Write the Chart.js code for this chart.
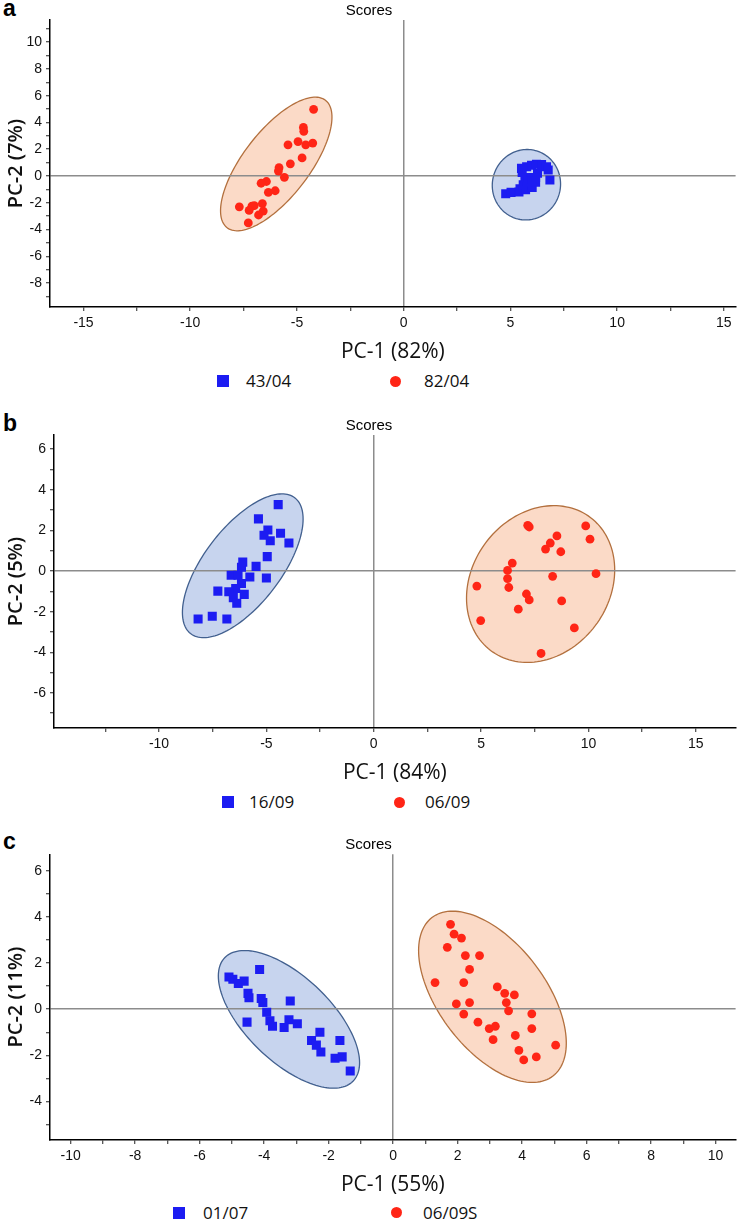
<!DOCTYPE html>
<html lang="en">
<head>
    <meta charset="UTF-8">
    <title>Scores</title>
    <style>
        body {
            margin: 0;
            width: 742px;
            height: 1221px;
            position: relative;
            overflow: hidden;
            background: #fff;
            font-family: 'Open Sans', sans-serif;
        }
        canvas { position: absolute; left: 0; }
        .letter {
            position: absolute;
            left: 3px;
            font: bold 23px 'Liberation Sans', Arial, sans-serif;
            line-height: 1;
        }
        .sq, .dot { position: absolute; }
        .sq { width: 12px; height: 12px; background: #1c1cf2; }
        .dot { width: 11px; height: 11px; border-radius: 50%; background: #ff2516; }
        .key {
            position: absolute;
            font-size: 17px;
            line-height: 20px;
            color: #111;
        }
    </style>
    <script src="https://cdn.jsdelivr.net/npm/chart.js"></script>
</head>
<body>
    <div class="letter" style="top:-3px">a</div>
    <div class="letter" style="top:412px">b</div>
    <div class="letter" style="top:830px">c</div>

    <canvas id="chartA" width="742" height="365" style="top:0px"></canvas>
    <canvas id="chartB" width="742" height="386" style="top:400px"></canvas>
    <canvas id="chartC" width="742" height="378" style="top:820px"></canvas>

    <!-- 범례 -->
    <div class="sq" style="left:217px; top:375px"></div>
    <div class="key" style="left:246px; top:371px">43/04</div>
    <div class="dot" style="left:390px; top:376px"></div>
    <div class="key" style="left:424px; top:371px">82/04</div>

    <div class="sq" style="left:222px; top:796px"></div>
    <div class="key" style="left:249px; top:792px">16/09</div>
    <div class="dot" style="left:394px; top:797px"></div>
    <div class="key" style="left:425px; top:792px">06/09</div>

    <div class="sq" style="left:173px; top:1207px"></div>
    <div class="key" style="left:203px; top:1203px">01/07</div>
    <div class="dot" style="left:391px; top:1207px"></div>
    <div class="key" style="left:423px; top:1203px">06/09S</div>

    <script>
        // score values [PC-1, PC-2]
        const scores_43_04 = [[4.78,-1.32],[5.03,-1.22],[5.40,-1.20],[5.45,-0.95],[5.71,-1.02],[5.60,-0.66],
            [6.02,-0.85],[5.80,-0.46],[6.18,-0.46],[5.68,-0.16],[5.84,-0.11],[5.99,-0.28],[6.18,-0.11],
            [6.27,0.21],[5.55,0.27],[5.52,0.57],[5.76,0.69],[5.99,0.81],[6.22,0.88],[6.46,0.86],
            [6.69,0.69],[6.77,0.45],[6.85,-0.29]];
        const scores_82_04 = [[-4.22,4.98],[-4.70,3.63],[-4.68,3.34],[-5.42,2.33],[-4.95,2.57],[-4.59,2.33],
            [-4.26,2.46],[-4.76,1.35],[-5.31,0.91],[-5.84,0.62],[-5.87,0.37],[-5.59,-0.10],[-6.43,-0.41],
            [-6.68,-0.54],[-6.02,-1.10],[-6.34,-1.22],[-7.70,-2.30],[-7.11,-2.25],[-7.00,-2.21],
            [-6.62,-2.06],[-7.24,-2.57],[-6.58,-2.62],[-6.80,-2.91],[-7.28,-3.50]];

        const scores_16_09 = [[-4.45,3.27],[-5.37,2.57],[-4.93,2.02],[-5.11,1.76],[-4.82,1.49],[-4.34,1.86],
            [-3.95,1.38],[-4.96,0.71],[-6.10,0.44],[-6.16,0.19],[-5.48,0.23],[-5.77,-0.29],[-6.64,-0.21],
            [-6.32,-0.21],[-5.00,-0.34],[-6.16,-0.61],[-6.43,-0.86],[-7.26,-0.99],[-6.75,-1.02],
            [-6.03,-1.15],[-6.54,-1.31],[-6.38,-1.59],[-8.18,-2.36],[-7.52,-2.23],[-6.84,-2.36]];
        const scores_06_09 = [[7.17,2.25],[7.24,2.17],[9.87,2.22],[10.07,1.57],[8.53,1.73],[8.22,1.38],
            [8.00,1.08],[8.71,0.95],[6.45,0.39],[6.23,0.03],[6.23,-0.37],[6.29,-0.81],[8.33,-0.26],
            [10.35,-0.13],[4.80,-0.74],[7.11,-1.13],[7.24,-1.42],[8.75,-1.47],[6.73,-1.88],
            [4.98,-2.44],[9.34,-2.80],[7.79,-4.06]];

        const scores_01_07 = [[-4.14,1.73],[-5.09,1.40],[-4.97,1.30],[-4.80,1.12],[-4.62,1.22],[-4.50,0.69],
            [-4.47,0.50],[-4.09,0.47],[-4.04,0.29],[-3.19,0.36],[-3.92,-0.13],[-3.82,-0.50],[-3.74,-0.74],
            [-4.53,-0.56],[-3.23,-0.46],[-2.97,-0.63],[-3.38,-0.79],[-2.27,-1.00],[-2.53,-1.36],
            [-2.38,-1.56],[-2.24,-1.86],[-1.65,-1.36],[-1.80,-2.13],[-1.58,-2.07],[-1.33,-2.68]];
        const scores_06_09S = [[1.78,3.69],[1.89,3.26],[2.12,3.09],[1.68,2.69],[2.24,2.33],[2.68,2.33],
            [2.37,1.73],[1.30,1.16],[2.19,1.16],[3.23,0.97],[3.46,0.69],[3.76,0.62],[3.51,0.29],
            [1.96,0.23],[2.37,0.29],[3.58,-0.07],[2.19,-0.21],[4.30,-0.20],[2.63,-0.56],[2.98,-0.84],
            [3.17,-0.74],[4.30,-0.84],[3.10,-1.32],[3.79,-1.14],[5.04,-1.56],[3.90,-1.79],
            [4.05,-2.20],[4.44,-2.07]];

        // confidence ellipses: [centre x, centre y, half width, half height, correlation]
        const ellipse_43_04 = [5.75, -0.65, 1.60, 2.63, 0.02];
        const ellipse_82_04 = [-5.97, 0.90, 2.61, 4.99, 0.70];
        const ellipse_16_09 = [-6.10, 0.26, 2.81, 3.54, 0.65];
        const ellipse_06_09 = [7.77, -0.64, 3.45, 3.86, 0.18];
        const ellipse_01_07 = [-3.23, -0.44, 2.19, 2.99, -0.63];
        const ellipse_06_09S = [3.08, 0.54, 2.29, 3.72, -0.54];

        // axis ranges and tick steps: [min, max, minor step, labelled step]
        const xAxisA = [-16.57, 15.55, 2.5, 5];
        const yAxisA = [-9.78, 11.65, 1, 2];
        const xAxisB = [-14.89, 16.85, 2.5, 5];
        const yAxisB = [-7.73, 6.70, 1, 2];
        const xAxisC = [-10.64, 10.62, 1, 2];
        const yAxisC = [-5.68, 6.73, 1, 2];

        const BLUE = '#1c1cf2';
        const RED = '#ff2516';
        const BLUE_FILL = '#c7d4ee', BLUE_LINE = '#42608f';
        const RED_FILL = '#fbdac7', RED_LINE = '#b3703e';

        function ellipses(list) {
            return {
                id: 'ellipses',
                beforeDraw(chart) {
                    const ctx = chart.ctx;
                    const sx = chart.scales.x, sy = chart.scales.y;
                    ctx.save();
                    list.forEach(e => {
                        const [cx, cy, rx, ry, rho] = e.shape;
                        const k = Math.sqrt(1 - rho * rho);
                        ctx.beginPath();
                        for (let i = 0; i <= 144; i++) {
                            const t = i / 144 * 2 * Math.PI;
                            const px = sx.getPixelForValue(cx + rx * Math.cos(t));
                            const py = sy.getPixelForValue(cy + ry * (rho * Math.cos(t) + k * Math.sin(t)));
                            if (i === 0) ctx.moveTo(px, py); else ctx.lineTo(px, py);
                        }
                        ctx.closePath();
                        ctx.fillStyle = e.fill;
                        ctx.fill();
                        ctx.lineWidth = 1.3;
                        ctx.strokeStyle = e.line;
                        ctx.stroke();
                    });
                    ctx.restore();
                }
            };
        }

        function isMultiple(v, step) {
            return Math.abs(v / step - Math.round(v / step)) < 1e-6;
        }

        // only the zero line is drawn across the plot
        function zeroLine(c) {
            return c.tick && Math.abs(c.tick.value) < 1e-9 ? '#8c8c8c' : 'rgba(0,0,0,0)';
        }

        function axis(range, title, titleFont, extra) {
            return Object.assign({
                type: 'linear',
                min: range[0],
                max: range[1],
                ticks: {
                    stepSize: range[2],
                    includeBounds: false,
                    autoSkip: false,
                    maxRotation: 0,
                    padding: 4,
                    color: '#111',
                    font: { family: 'Liberation Sans', size: 14 },
                    callback: v => isMultiple(v, range[3]) ? String(Math.round(v)) : ''
                },
                grid: { color: zeroLine, lineWidth: 1.5, tickLength: 4, tickColor: '#222', tickWidth: 1 },
                border: { color: '#000', width: 1.5 },
                title: { display: true, text: title, color: '#111', font: titleFont, padding: { top: 4, bottom: 0 } }
            }, extra || {});
        }

        function scoresChart(id, p) {
            new Chart(document.getElementById(id), {
                type: 'scatter',
                data: {
                    datasets: [
                        {
                            label: p.names[0],
                            data: p.blue.map(([x, y]) => ({ x, y })),
                            pointStyle: 'rect',
                            pointRadius: 6.4,
                            backgroundColor: BLUE,
                            borderWidth: 0
                        },
                        {
                            label: p.names[1],
                            data: p.red.map(([x, y]) => ({ x, y })),
                            pointStyle: 'circle',
                            pointRadius: 4.4,
                            backgroundColor: RED,
                            borderWidth: 0
                        }
                    ]
                },
                options: {
                    responsive: false,
                    animation: false,
                    events: [],
                    layout: { padding: { left: 0, right: p.padRight, top: 0, bottom: 0 } },
                    plugins: {
                        legend: { display: false },
                        tooltip: { enabled: false },
                        title: {
                            display: true,
                            text: 'Scores',
                            color: '#000',
                            font: { family: 'Liberation Sans', size: 15, weight: 'normal' },
                            padding: { top: p.titleTop, bottom: 0 }
                        }
                    },
                    scales: {
                        x: axis(p.x, p.xTitle, { family: 'Open Sans', size: 21 }),
                        y: axis(p.y, p.yTitle, { family: 'Open Sans', size: 20, weight: '600' }, {
                            afterFit(scale) { scale.width = p.yWidth; }
                        })
                    }
                },
                plugins: [ellipses([
                    { shape: p.blueEllipse, fill: BLUE_FILL, line: BLUE_LINE },
                    { shape: p.redEllipse, fill: RED_FILL, line: RED_LINE }
                ])]
            });
        }

        scoresChart('chartA', {
            names: ['43/04', '82/04'], blue: scores_43_04, red: scores_82_04,
            blueEllipse: ellipse_43_04, redEllipse: ellipse_82_04,
            x: xAxisA, y: yAxisA, xTitle: 'PC-1 (82%)', yTitle: 'PC-2 (7%)',
            titleTop: 2, yWidth: 50, padRight: 4
        });
        scoresChart('chartB', {
            names: ['16/09', '06/09'], blue: scores_16_09, red: scores_06_09,
            blueEllipse: ellipse_16_09, redEllipse: ellipse_06_09,
            x: xAxisB, y: yAxisB, xTitle: 'PC-1 (84%)', yTitle: 'PC-2 (5%)',
            titleTop: 17, yWidth: 54, padRight: 4
        });
        scoresChart('chartC', {
            names: ['01/07', '06/09S'], blue: scores_01_07, red: scores_06_09S,
            blueEllipse: ellipse_01_07, redEllipse: ellipse_06_09S,
            x: xAxisC, y: yAxisC, xTitle: 'PC-1 (55%)', yTitle: 'PC-2 (11%)',
            titleTop: 16.3, yWidth: 50, padRight: 5
        });
    </script>
</body>
</html>
